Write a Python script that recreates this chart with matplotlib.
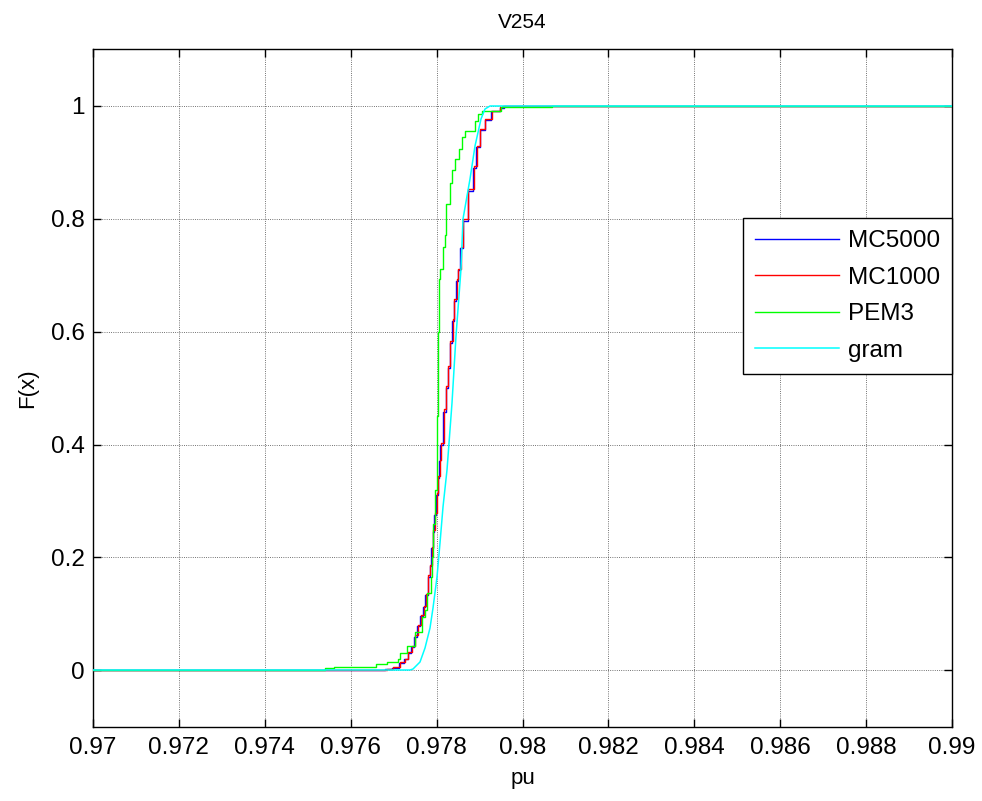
import numpy as np
import matplotlib.pyplot as plt

plt.rcParams['font.family'] = ['Liberation Sans', 'DejaVu Sans']

# Empirical CDF staircases (x where F steps, new F value)
mc1000_x = [0.970, 0.97684, 0.97699, 0.97715, 0.97726, 0.97734, 0.97742, 0.97750,
            0.97757, 0.97763, 0.97771, 0.97775, 0.97781, 0.97785, 0.97789, 0.97792,
            0.97796, 0.97800, 0.97804, 0.97808, 0.97810, 0.97817, 0.97823, 0.97827,
            0.97831, 0.97837, 0.97841, 0.97847, 0.97850, 0.97857, 0.97862, 0.97874,
            0.97886, 0.97893, 0.97901, 0.97913, 0.97928, 0.97948, 0.97955, 0.990]
mc1000_F = [0.0, 0.003, 0.006, 0.015, 0.021, 0.033, 0.044, 0.062,
            0.080, 0.098, 0.115, 0.136, 0.169, 0.187, 0.219, 0.249,
            0.278, 0.314, 0.344, 0.373, 0.402, 0.462, 0.503, 0.539,
            0.583, 0.622, 0.657, 0.693, 0.710, 0.750, 0.799, 0.852,
            0.893, 0.929, 0.959, 0.976, 0.991, 0.997, 1.0, 1.0]

mc5000_x = [0.970, 0.97680, 0.97697, 0.97712, 0.97724, 0.97733, 0.97741, 0.97748,
            0.97755, 0.97762, 0.97769, 0.97774, 0.97779, 0.97784, 0.97788, 0.97791,
            0.97795, 0.97799, 0.97803, 0.97806, 0.97809, 0.97815, 0.97821, 0.97826,
            0.97830, 0.97835, 0.97840, 0.97845, 0.97849, 0.97855, 0.97861, 0.97872,
            0.97884, 0.97892, 0.97900, 0.97912, 0.97927, 0.97947, 0.97958, 0.990]
mc5000_F = [0.0, 0.002, 0.005, 0.013, 0.020, 0.031, 0.042, 0.060,
            0.078, 0.096, 0.113, 0.134, 0.166, 0.185, 0.216, 0.246,
            0.275, 0.311, 0.341, 0.370, 0.400, 0.458, 0.500, 0.536,
            0.580, 0.619, 0.654, 0.690, 0.708, 0.747, 0.796, 0.849,
            0.890, 0.927, 0.957, 0.975, 0.990, 0.996, 1.0, 1.0]

pem3_x = [0.970, 0.97540, 0.97560, 0.97660, 0.97685, 0.97711, 0.97715, 0.97730,
          0.97750, 0.97765, 0.97773, 0.97777, 0.97786, 0.97789, 0.97792, 0.97796,
          0.97800, 0.97802, 0.97804, 0.97806, 0.97808, 0.97814, 0.97819, 0.97823,
          0.97830, 0.97835, 0.97843, 0.97851, 0.97858, 0.97866, 0.97889, 0.97897,
          0.97905, 0.97951, 0.98068, 0.990]
pem3_F = [0.0, 0.005, 0.007, 0.011, 0.015, 0.020, 0.031, 0.044,
          0.068, 0.095, 0.107, 0.137, 0.166, 0.201, 0.260, 0.320,
          0.370, 0.450, 0.600, 0.693, 0.711, 0.750, 0.770, 0.826,
          0.862, 0.886, 0.905, 0.923, 0.944, 0.955, 0.973, 0.985,
          0.991, 0.997, 1.0, 1.0]

# Smooth analytical CDF (gram), sampled
gram_x = [0.970, 0.97738, 0.97746, 0.97761, 0.97773, 0.97785, 0.97792, 0.97800,
          0.97808, 0.97816, 0.97825, 0.97835, 0.97845, 0.97857, 0.97862, 0.97878,
          0.97889, 0.97903, 0.97913, 0.97924, 0.990]
gram_F = [0.0, 0.0, 0.003, 0.015, 0.039, 0.075, 0.110, 0.166,
          0.225, 0.290, 0.355, 0.474, 0.592, 0.710, 0.799, 0.870,
          0.929, 0.976, 0.994, 1.0, 1.0]

fig = plt.figure(figsize=(9.82, 8.01), dpi=100)
ax = fig.add_axes([0.0947, 0.0924, 0.8748, 0.8464])

ax.plot(mc5000_x, mc5000_F, color='b', lw=1.0, drawstyle='steps-post', label='MC5000', zorder=3)
ax.plot(mc1000_x, mc1000_F, color='r', lw=1.0, drawstyle='steps-post', label='MC1000', zorder=4)
ax.plot(pem3_x, pem3_F, color=(0, 1, 0), lw=1.0, drawstyle='steps-post', label='PEM3', zorder=5)
ax.plot(gram_x, gram_F, color=(0, 1, 1), lw=1.1, label='gram', zorder=6, snap=True)

ax.set_xlim(0.97, 0.99)
ax.set_ylim(-0.1, 1.1)
ax.set_xticks(np.arange(0.97, 0.9901, 0.002))
ax.set_xticklabels(['0.97', '0.972', '0.974', '0.976', '0.978', '0.98',
                    '0.982', '0.984', '0.986', '0.988', '0.99'])
ax.set_yticks([0, 0.2, 0.4, 0.6, 0.8, 1])
ax.set_yticklabels(['0', '0.2', '0.4', '0.6', '0.8', '1'])
ax.tick_params(direction='in', top=True, right=True, length=6, width=1,
               labelsize=17.5)
ax.tick_params(axis='x', pad=7)
ax.tick_params(axis='y', pad=6)
ax.grid(True, linestyle=':', color='#444444', linewidth=0.6)
for s in ax.spines.values():
    s.set_linewidth(1.0)

ax.set_title('V254', fontsize=15, pad=15)
ax.set_xlabel('pu', fontsize=16, labelpad=7)
ax.set_ylabel('F(x)', fontsize=16, labelpad=9)

leg = ax.legend(loc='upper right', bbox_to_anchor=(1.0, 0.7507), fontsize=17.5,
                fancybox=False, edgecolor='black', framealpha=1,
                handlelength=3.45, handletextpad=0.37, borderpad=0.5,
                labelspacing=0.6, borderaxespad=0)
leg.get_frame().set_linewidth(1.0)

fig.savefig('out.png', dpi=100)
